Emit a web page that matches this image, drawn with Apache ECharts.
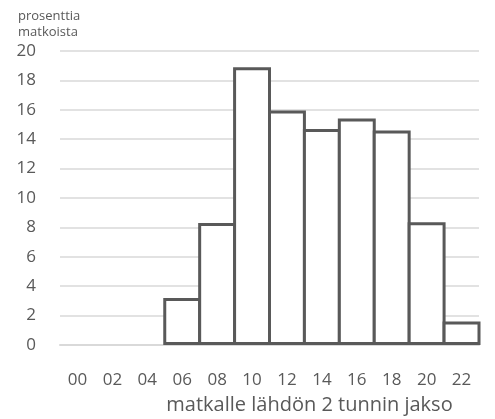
<!DOCTYPE html>
<html>
<head>
    <meta charset="utf-8">
    <title>matkat</title>
    <script src="https://cdn.jsdelivr.net/npm/echarts@6/dist/echarts.min.js"></script>
    <style>
        html, body { margin: 0; padding: 0; background: #fff; }
        #mychat { width: 495px; height: 419px; }
    </style>
</head>
<body>
<div id="mychat"></div>
<script>
    // kahden tunnin jaksot
    let jaksot = ['00', '02', '04', '06', '08', '10', '12', '14', '16', '18', '20', '22'];
    // prosenttia matkoista
    let osuudet = [0, 0, 0, 3.2, 8.3, 18.9, 15.95, 14.7, 15.4, 14.6, 8.35, 1.6];

    let fontti = '"Open Sans", Lato, sans-serif';
    let reuna = 3;
    // pylväät vierekkäin, yhteinen reunaviiva (echarts kutistaa pylvästä reunan verran)
    let leveys = (495 - 60 - 16) / jaksot.length + reuna;
    let myChart = echarts.init(document.getElementById('mychat'));
    let option = {
        animation: false,
        textStyle: { fontFamily: fontti, color: '#595959' },
        title: {
            text: 'prosenttia\nmatkoista',
            left: 13,
            top: 3,
            textStyle: {
                fontFamily: fontti,
                fontSize: 13,
                fontWeight: 'normal',
                color: '#595959',
                lineHeight: 16
            }
        },
        grid: { left: 60, right: 16, top: 51, bottom: 74, outerBoundsMode: 'none' },
        xAxis: {
            type: 'category',
            data: jaksot,
            name: 'matkalle lähdön 2 tunnin jakso',
            nameLocation: 'middle',
            nameGap: 50,
            nameTextStyle: {
                fontSize: 20,
                color: '#595959',
                padding: [0, 0, 0, 80]
            },
            axisLine: { lineStyle: { color: '#d9d9d9', width: 2 } },
            axisTick: { show: false },
            axisLabel: { fontSize: 17, color: '#595959', margin: 27, interval: 0 }
        },
        yAxis: {
            type: 'value',
            min: 0,
            max: 20,
            interval: 2,
            axisLine: { show: false },
            axisTick: { show: false },
            axisLabel: { fontSize: 17, color: '#595959', margin: 24 },
            splitLine: { lineStyle: { color: '#d9d9d9', width: 1.5 } }
        },
        series: [
            {
                type: 'bar',
                // tyhjiä jaksoja ei piirretä
                data: osuudet.map(v => v === 0 ? '-' : v),
                barWidth: leveys,
                itemStyle: {
                    color: '#ffffff',
                    borderColor: '#595959',
                    borderWidth: reuna
                }
            }
        ]
    };
    myChart.setOption(option);
</script>
</body>
</html>
